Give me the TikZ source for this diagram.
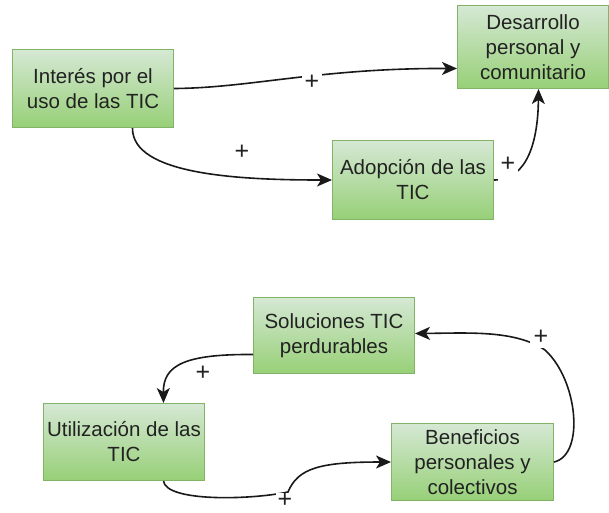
\documentclass[tikz,border=0pt]{standalone}
\usepackage{fontspec}
\setmainfont{Liberation Sans}
\usetikzlibrary{arrows.meta}
\definecolor{boxtop}{HTML}{D5E8D4}
\definecolor{boxbottom}{HTML}{97D077}
\definecolor{boxline}{HTML}{82B366}
\definecolor{txt}{HTML}{222222}
\begin{document}
\begin{tikzpicture}[x=1pt,y=-1pt,
  box/.style={rectangle, draw=boxline, line width=1pt, top color=boxtop, bottom color=boxbottom,
    anchor=north west, inner sep=0pt, align=center, text=txt,
    font=\fontsize{20.5}{25}\selectfont},
  link/.style={draw=black!90, line width=1.6pt, -{Stealth[length=15pt,width=13pt,inset=4pt]}},
  sign/.style={fill=white, inner sep=1pt, text=txt, font=\fontsize{25}{25}\selectfont}]
\useasboundingbox (0,0) rectangle (609,512);

% causal chain: interest -> adoption -> development
\node[box, minimum width=161pt, minimum height=78pt] (interes) at (12,49) {Interés por el\\uso de las TIC};
\node[box, minimum width=151pt, minimum height=83pt] (desarrollo) at (457,5) {Desarrollo\\personal y\\comunitario};
\node[box, minimum width=161pt, minimum height=79pt] (adopcion) at (332,140) {Adopción de las\\TIC};

% reinforcing loop
\node[box, minimum width=161pt, minimum height=76pt] (soluciones) at (253,297) {Soluciones TIC\\perdurables};
\node[box, minimum width=161pt, minimum height=77pt] (utilizacion) at (43,403) {Utilización de las\\TIC};
\node[box, minimum width=162pt, minimum height=77pt] (beneficios) at (391,423) {Beneficios\\personales y\\colectivos};

% connectors with their polarity signs
\draw[link] (interes.east) .. controls (250,88) and (320,68) .. ([yshift=-21.5pt]desarrollo.west);
\node[sign, inner xsep=3pt] (p1) at (312,82) {+};

\draw[link] ([xshift=39.5pt]interes.south) .. controls (132,175) and (240,180) .. (adopcion.west);
\node[sign, fill=none] (p2) at (242,152) {+};

\draw[link] (adopcion.east) .. controls (528,180) and (538,140) .. ([xshift=5.5pt]desarrollo.south);
\node[sign, inner xsep=3pt, text depth=14pt, anchor=base] (p3) at (508,171) {+};

\draw[link] ([yshift=-19pt]soluciones.west) .. controls (185,354) and (163,365) .. ([xshift=39.5pt]utilizacion.north);
\node[sign, inner sep=4pt] (p4) at (203,373) {+};

\draw[link] ([xshift=39.5pt]utilizacion.south) .. controls (166,502) and (250,500) .. (288,492)
  .. controls (298,468) and (320,462) .. (beneficios.west);
\node[sign, inner xsep=2pt, inner ysep=0pt] (p5) at (285,500) {+};

\draw[link] (beneficios.east) .. controls (585,455) and (578,380) .. (545,350)
  .. controls (515,330) and (470,333) .. ([yshift=2pt]soluciones.east);
\node[sign, inner sep=4pt] (p6) at (541,337) {+};
\end{tikzpicture}
\end{document}
